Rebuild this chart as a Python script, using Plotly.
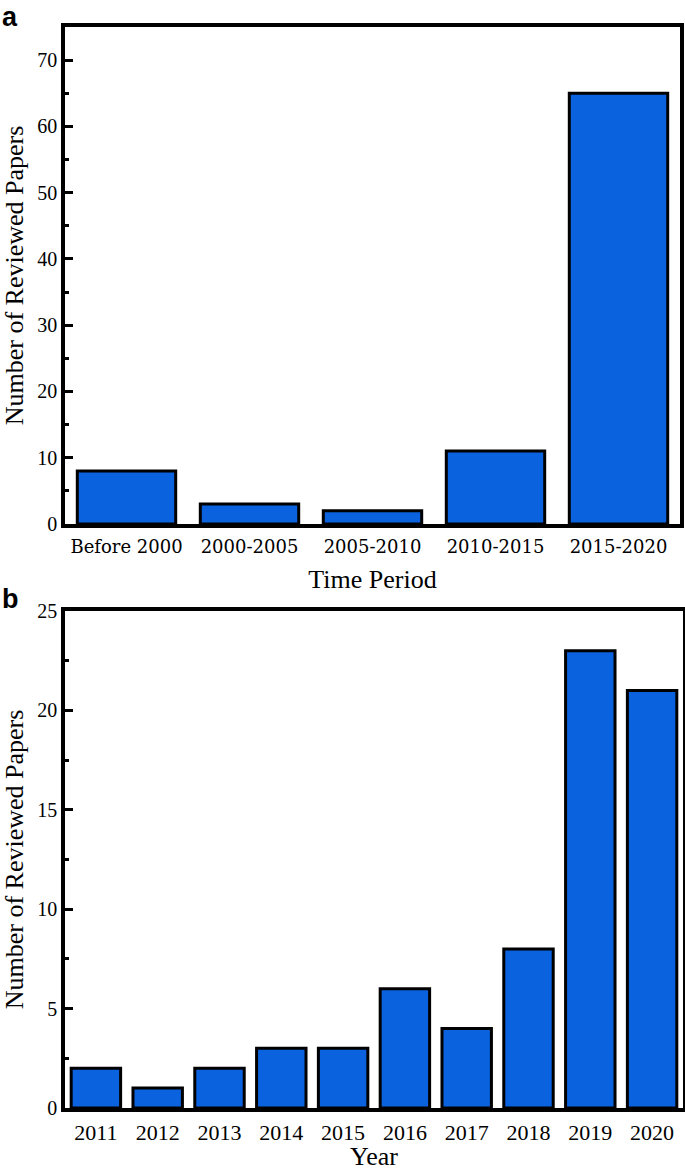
import plotly.graph_objects as go

periods = ["Before 2000", "2000-2005", "2005-2010", "2010-2015", "2015-2020"]
period_counts = [8, 3, 2, 11, 65]
years = ["2011", "2012", "2013", "2014", "2015", "2016", "2017", "2018", "2019", "2020"]
year_counts = [2, 1, 2, 3, 3, 6, 4, 8, 23, 21]

BLUE = "#0b62de"
W, H = 685, 1171
ml, mr, mt, mb = 65, 2, 27, 63
pw = W - ml - mr
ph = H - mt - mb

fig = go.Figure()
fig.add_trace(go.Bar(x=periods, y=period_counts, width=0.8,
                     marker=dict(color=BLUE, line=dict(color="black", width=3)),
                     xaxis="x", yaxis="y", showlegend=False))
fig.add_trace(go.Bar(x=years, y=year_counts, width=0.8,
                     marker=dict(color=BLUE, line=dict(color="black", width=3)),
                     xaxis="x2", yaxis="y2", showlegend=False))

axcommon = dict(showline=True, linewidth=3.5, linecolor="black", mirror=True,
                showgrid=False, zeroline=False, automargin=False)
tickfont = dict(family="Liberation Serif", size=20, color="black")
titlefont = dict(family="Liberation Serif", size=26, color="black")

a_bottom = (H - mb - 524) / ph
b_top = (H - mb - 611) / ph

fig.update_layout(
    width=W, height=H, margin=dict(l=ml, r=mr, t=mt, b=mb),
    plot_bgcolor="white", paper_bgcolor="white", bargap=0.2,
    xaxis=dict(domain=[0, 615 / pw], anchor="y", range=[-0.5, 4.5],
               tickfont=dict(family="DejaVu Serif", size=18, color="black"),
               ticks="", ticklabelstandoff=4,
               title=dict(text="Time Period", font=titlefont, standoff=14),
               **axcommon),
    yaxis=dict(domain=[a_bottom, 1], anchor="x", range=[0, 75],
               tickmode="array", tickvals=list(range(0, 71, 10)),
               ticks="inside", ticklen=8, tickwidth=3, tickcolor="black",
               minor=dict(tickvals=list(range(5, 76, 10)), ticks="inside",
                          ticklen=4, tickwidth=3, tickcolor="black"),
               tickfont=tickfont,
               title=dict(text="Number of Reviewed Papers", font=titlefont, standoff=8),
               **axcommon),
    xaxis2=dict(domain=[0, 1], anchor="y2", range=[-0.5, 9.5],
                tickfont=dict(family="Liberation Serif", size=22, color="black"),
                ticks="", ticklabelstandoff=2,
                title=dict(text="Year", font=titlefont, standoff=10),
                **axcommon),
    yaxis2=dict(domain=[0, b_top], anchor="x2", range=[0, 25],
                tickmode="array", tickvals=list(range(0, 26, 5)),
                ticks="inside", ticklen=8, tickwidth=3, tickcolor="black",
                minor=dict(tickvals=[2.5, 7.5, 12.5, 17.5, 22.5], ticks="inside",
                           ticklen=4, tickwidth=3, tickcolor="black"),
                tickfont=tickfont,
                title=dict(text="Number of Reviewed Papers", font=titlefont, standoff=8),
                **axcommon),
)
fig.add_annotation(text="<b>a</b>", x=-ml / pw, y=1 + mt / ph,
                   xref="paper", yref="paper", showarrow=False,
                   xanchor="left", yanchor="top",
                   font=dict(family="Liberation Sans", size=27, color="black"))
fig.add_annotation(text="<b>b</b>", x=-ml / pw, y=(H - mb - 582) / ph,
                   xref="paper", yref="paper", showarrow=False,
                   xanchor="left", yanchor="top",
                   font=dict(family="Liberation Sans", size=27, color="black"))

fig.write_html("out.html", config={"displayModeBar": False},
               post_script="document.body.style.margin='0px';document.body.style.overflow='hidden';")
